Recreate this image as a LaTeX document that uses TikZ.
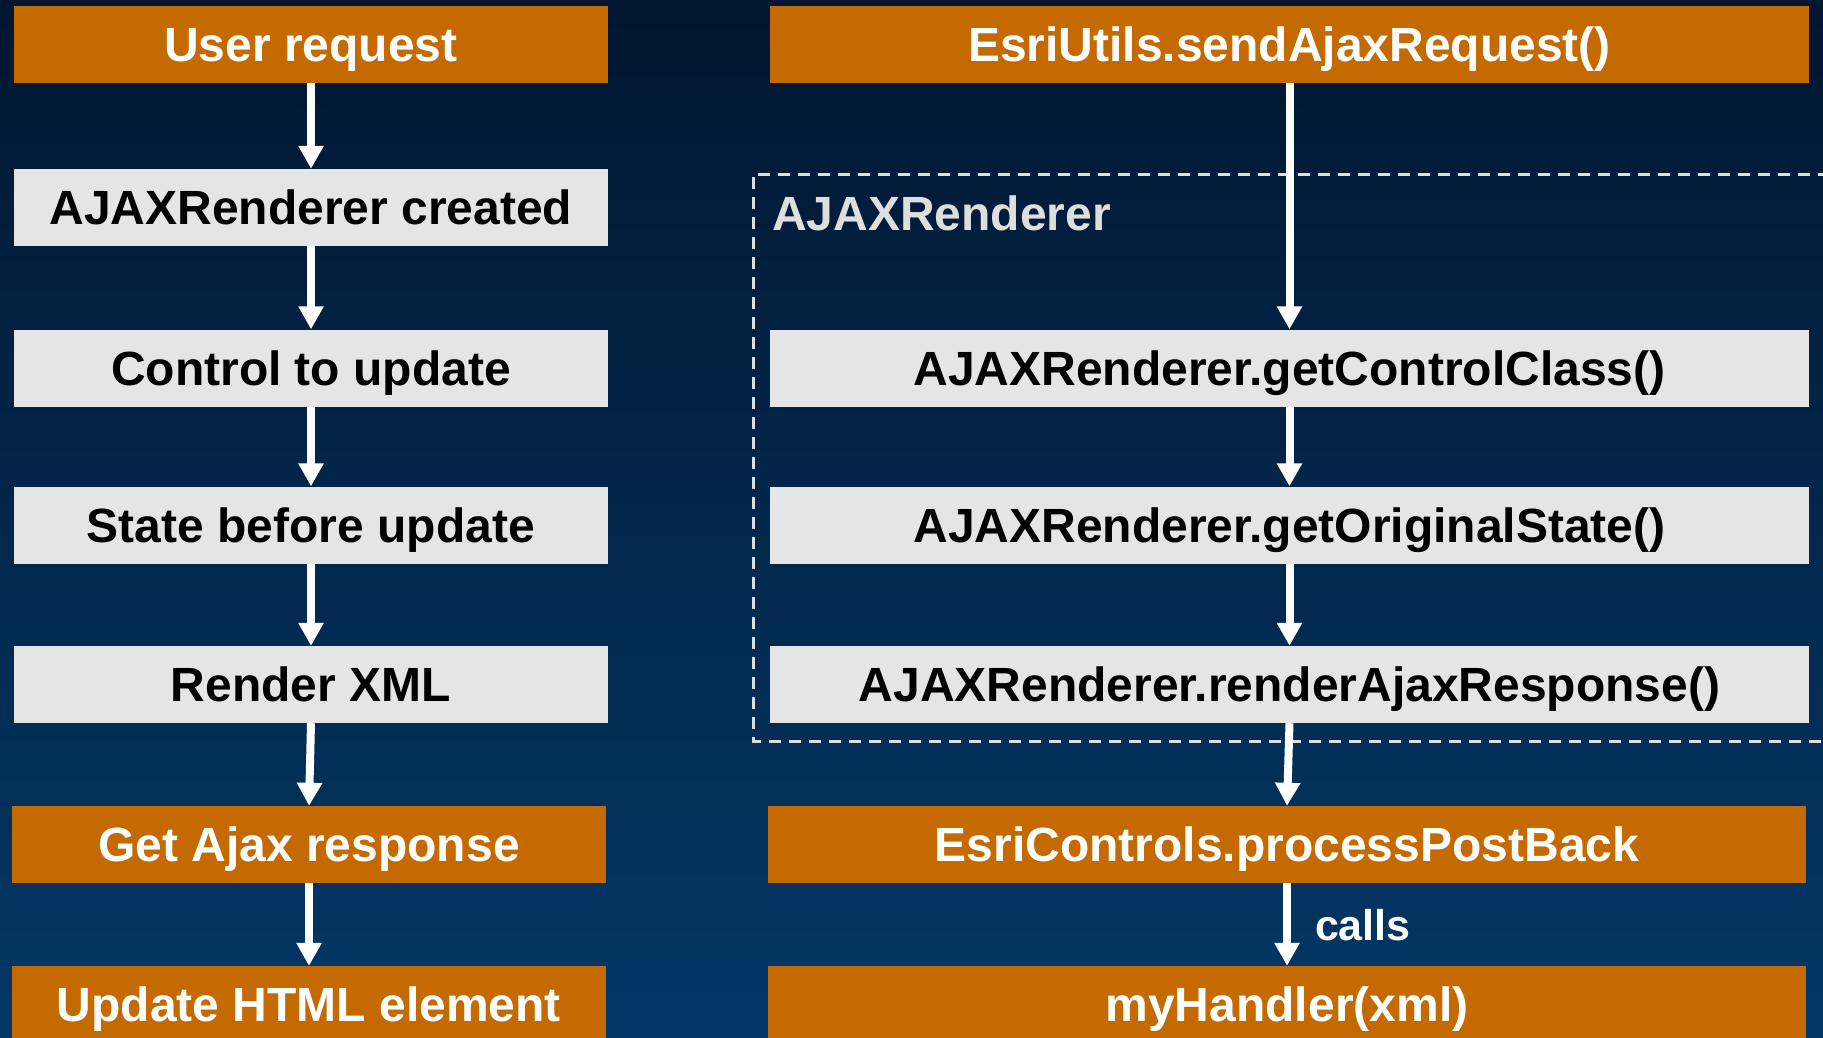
\documentclass[tikz,border=0pt]{standalone}
\usepackage{fontspec}
\setmainfont{Liberation Sans}
\usetikzlibrary{arrows.meta}
\definecolor{orangebox}{RGB}{197,106,0}
\definecolor{graybox}{RGB}{229,229,229}
\definecolor{bgtop}{RGB}{1,22,48}
\definecolor{bgbot}{RGB}{3,56,102}
\definecolor{dashcol}{RGB}{222,222,222}
\begin{document}
\begin{tikzpicture}[x=1pt,y=-1pt,
  box/.style={rectangle, inner sep=0pt, minimum height=77pt, text height=34pt, text depth=0pt,
    font=\fontsize{48}{56}\selectfont\bfseries},
  obox/.style={box, fill=orangebox, text=white},
  gbox/.style={box, fill=graybox, text=black},
  lw/.style={minimum width=594pt},
  rw/.style={minimum width=1039pt},
  arr/.style={draw=white, line width=8pt, -{Triangle[width=24pt,length=23pt]}},
  grp/.style={draw=dashcol, line width=3pt, dash pattern=on 12pt off 8pt},
  lbl/.style={inner sep=0pt, text height=34pt, text depth=0pt, font=\fontsize{48}{56}\selectfont\bfseries}
]
\useasboundingbox (0,0) rectangle (1823,1038);
\clip (0,0) rectangle (1823,1038);
\shade[top color=bgtop, bottom color=bgbot] (0,0) rectangle (1823,1038);

% dashed group
\draw[grp] (1830,174) -- (753,174) -- (753,741) -- (1830,741);
\node[lbl, anchor=west, text=dashcol] (grplbl) at (772,213) {AJAXRenderer};

% left column
\node[obox, lw] (ur)  at (311,44.5)  {User request};
\node[gbox, lw] (arc) at (311,207.5) {AJAXRenderer created};
\node[gbox, lw] (ctu) at (311,368)   {Control to update};
\node[gbox, lw] (sbu) at (311,525)   {State before update};
\node[gbox, lw] (rx)  at (311,684.5) {Render XML};
\node[obox, lw] (ga)  at (309,844.5) {Get Ajax response};
\node[obox, lw] (uh)  at (309,1004.5) {Update HTML element};

% right column
\node[obox, rw] (eu)  at (1289.5,44.5) {EsriUtils.sendAjaxRequest()};
\node[gbox, rw] (gcc) at (1289.5,368)  {AJAXRenderer.getControlClass()};
\node[gbox, rw] (gos) at (1289.5,525)  {AJAXRenderer.getOriginalState()};
\node[gbox, rw] (rar) at (1289.5,684.5) {AJAXRenderer.renderAjaxResponse()};
\node[obox, minimum width=1038pt] (ppb) at (1287,844.5) {EsriControls.processPostBack};
\node[obox, minimum width=1038pt] (mh)  at (1287,1004.5) {myHandler(xml)};

% arrows
\draw[arr] (ur.south) -- (arc.north);
\draw[arr] (arc.south) -- (ctu.north);
\draw[arr] (ctu.south) -- (sbu.north);
\draw[arr] (sbu.south) -- (rx.north);
\draw[arr] (rx.south) -- (ga.north);
\draw[arr] (ga.south) -- (uh.north);

\draw[arr] (eu.south) -- (gcc.north);
\draw[arr] (gcc.south) -- (gos.north);
\draw[arr] (gos.south) -- (rar.north);
\draw[arr] (rar.south) -- (ppb.north);
\draw[arr] (ppb.south) -- (mh.north)
  node[midway, right=24pt, inner sep=0pt, text=white, text height=31pt, text depth=0pt,
       font=\fontsize{43}{50}\selectfont\bfseries] (calls) {calls};
\end{tikzpicture}
\end{document}
